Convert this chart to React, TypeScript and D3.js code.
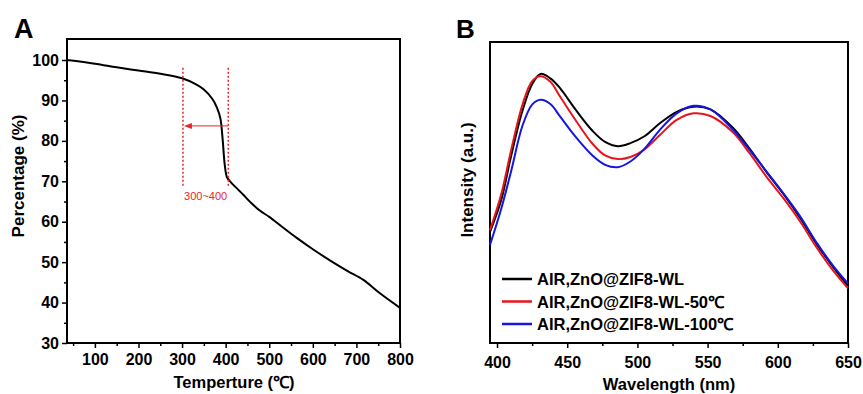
import React, { useEffect, useRef } from "react";
import * as d3 from "d3";

// panel A: TGA curve
const tempC = [36, 100, 150, 200, 250, 300, 330, 350, 370, 380, 388, 393, 398, 403, 410, 430, 441, 460, 479, 500, 530, 563, 600, 640, 680, 716, 754, 800];
const massPct = [100, 99.1, 98.2, 97.4, 96.6, 95.5, 94.1, 92.7, 90.3, 88.2, 85.5, 80.5, 74.0, 71.0, 70.0, 67.8, 66.6, 64.5, 62.7, 61.2, 58.7, 56.0, 53.2, 50.4, 47.8, 45.6, 42.3, 38.7];
const tempTicks = [100, 200, 300, 400, 500, 600, 700, 800];
const pctTicks = [30, 40, 50, 60, 70, 80, 90, 100];
const markerTemps = [302, 406];
const markerSpan = [68.6, 98.1];
const arrowLevel = 83.7;
const markerLabel = "300~400";

// panel B: PL spectra
const wavelength = [395, 403, 410, 418, 425, 431, 438, 445, 456, 468, 477, 486, 495, 505, 516, 528, 540, 552, 568, 580, 592, 604, 616, 628, 640, 650];
const specWL = [36.9, 47.5, 62.0, 77.0, 86.0, 89.4, 87.9, 84.6, 77.5, 70.5, 66.8, 65.4, 66.4, 68.7, 73.0, 76.8, 78.5, 77.6, 71.5, 64.5, 56.8, 49.5, 41.5, 32.6, 24.9, 18.9];
const specWL50 = [37.5, 49.4, 64.0, 79.0, 87.0, 88.6, 86.8, 81.8, 74.0, 66.2, 62.3, 61.1, 61.8, 64.3, 69.1, 74.1, 76.3, 75.4, 70.0, 63.0, 55.2, 48.1, 40.3, 31.5, 23.7, 18.2];
const specWL100 = [32.6, 44.6, 57.0, 72.0, 79.2, 80.8, 79.4, 75.2, 68.5, 62.3, 59.2, 58.4, 60.3, 64.5, 70.8, 76.3, 78.8, 77.6, 70.9, 64.1, 56.9, 49.7, 42.0, 33.1, 25.3, 19.8];
const seriesNames = ["AIR,ZnO@ZIF8-WL", "AIR,ZnO@ZIF8-WL-50℃", "AIR,ZnO@ZIF8-WL-100℃"];
const seriesColors = ["#000000", "#e8141c", "#1616e0"];
const waveTicks = [400, 450, 500, 550, 600, 650];

const font = "'Liberation Sans', Arial, sans-serif";

export default function App() {
  const svgRef = useRef<SVGSVGElement | null>(null);

  useEffect(() => {
    if (!svgRef.current) return;
    const svg = d3.select(svgRef.current);
    svg.selectAll("*").remove();

    const styleAxis = (ax: d3.Selection<SVGGElement, unknown, null, undefined>) => {
      ax.select(".domain").remove();
      ax.selectAll("line").attr("stroke", "#000").attr("stroke-width", 1.5);
      ax.selectAll("text")
        .attr("fill", "#000")
        .style("font-family", font)
        .style("font-size", "16px")
        .style("font-weight", "bold");
    };

    // ---------- A ----------
    const xA = d3.scaleLinear().domain([36, 800]).range([67, 400]);
    const yA = d3.scaleLinear().domain([30, 105.2]).range([343, 39]);

    const axAx = svg.append("g").attr("transform", `translate(0,343)`)
      .call(d3.axisBottom(xA).tickValues(tempTicks).tickSize(5).tickPadding(6).tickSizeOuter(0));
    styleAxis(axAx);
    const axAxm = svg.append("g").attr("transform", `translate(0,343)`)
      .call(d3.axisBottom(xA).tickValues(d3.range(50, 800, 100)).tickSize(3).tickFormat(() => "").tickSizeOuter(0));
    styleAxis(axAxm);

    const axAy = svg.append("g").attr("transform", `translate(67,0)`)
      .call(d3.axisLeft(yA).tickValues(pctTicks).tickSize(5).tickPadding(3).tickSizeOuter(0));
    styleAxis(axAy);
    const axAym = svg.append("g").attr("transform", `translate(67,0)`)
      .call(d3.axisLeft(yA).tickValues(d3.range(35, 100, 10)).tickSize(3).tickFormat(() => "").tickSizeOuter(0));
    styleAxis(axAym);

    svg.append("rect")
      .attr("x", 67).attr("y", 39).attr("width", 333).attr("height", 304)
      .attr("fill", "none").attr("stroke", "#000").attr("stroke-width", 2);

    const lineA = d3.line<number>()
      .x((_, i) => xA(tempC[i]))
      .y((d) => yA(d))
      .curve(d3.curveCatmullRom.alpha(0.5));
    svg.append("path").datum(massPct).attr("d", lineA)
      .attr("fill", "none").attr("stroke", "#000").attr("stroke-width", 2);

    // red marker
    const red = "#e8262b";
    markerTemps.forEach((t) => {
      svg.append("line")
        .attr("x1", xA(t)).attr("x2", xA(t))
        .attr("y1", yA(markerSpan[1])).attr("y2", yA(markerSpan[0]))
        .attr("stroke", red).attr("stroke-width", 1.5).attr("stroke-dasharray", "2,2");
    });
    const ax0 = xA(markerTemps[0]) + 1;
    const ax1 = xA(markerTemps[1]);
    const ay = yA(arrowLevel);
    svg.append("line").attr("x1", ax0 + 6).attr("x2", ax1).attr("y1", ay).attr("y2", ay)
      .attr("stroke", red).attr("stroke-width", 1);
    svg.append("path")
      .attr("d", `M${ax0},${ay} L${ax0 + 8},${ay - 3} L${ax0 + 8},${ay + 3} Z`)
      .attr("fill", red);
    svg.append("text")
      .attr("x", (xA(markerTemps[0]) + xA(markerTemps[1])) / 2)
      .attr("y", 200)
      .attr("text-anchor", "middle")
      .attr("fill", red)
      .style("font-family", font)
      .style("font-size", "11px")
      .text(markerLabel);

    svg.append("text").attr("x", 14).attr("y", 38)
      .style("font-family", font).style("font-size", "27px").style("font-weight", "bold")
      .text("A");
    svg.append("text")
      .attr("transform", "translate(18,176) rotate(-90)")
      .attr("text-anchor", "middle").attr("dy", "0.35em")
      .style("font-family", font).style("font-size", "17px").style("font-weight", "bold")
      .text("Percentage (%)");
    svg.append("text").attr("x", 234).attr("y", 388).attr("text-anchor", "middle")
      .style("font-family", font).style("font-size", "16.5px").style("font-weight", "bold")
      .text("Temperture (℃)");

    // ---------- B ----------
    const xB = d3.scaleLinear().domain([395, 650]).range([490, 848]);
    const yB = d3.scaleLinear().domain([0, 100]).range([343, 42]);

    const axBx = svg.append("g").attr("transform", `translate(0,343)`)
      .call(d3.axisBottom(xB).tickValues(waveTicks).tickSize(5).tickPadding(9).tickSizeOuter(0));
    styleAxis(axBx);
    const axBxm = svg.append("g").attr("transform", `translate(0,343)`)
      .call(d3.axisBottom(xB).tickValues(d3.range(425, 650, 50)).tickSize(3).tickFormat(() => "").tickSizeOuter(0));
    styleAxis(axBxm);

    svg.append("rect")
      .attr("x", 490).attr("y", 42).attr("width", 358).attr("height", 301)
      .attr("fill", "none").attr("stroke", "#000").attr("stroke-width", 2);

    const lineB = d3.line<number>()
      .x((_, i) => xB(wavelength[i]))
      .y((d) => yB(d))
      .curve(d3.curveCatmullRom.alpha(0.5));
    [specWL, specWL50, specWL100].forEach((s, i) => {
      svg.append("path").datum(s).attr("d", lineB)
        .attr("fill", "none").attr("stroke", seriesColors[i]).attr("stroke-width", 2);
    });

    const legend = svg.append("g");
    seriesNames.forEach((name, i) => {
      const y = 279 + i * 22.5;
      legend.append("line").attr("x1", 502).attr("x2", 532).attr("y1", y).attr("y2", y)
        .attr("stroke", seriesColors[i]).attr("stroke-width", 2.5);
      legend.append("text").attr("x", 537).attr("y", y + 6)
        .style("font-family", font).style("font-size", "16.5px").style("font-weight", "bold")
        .text(name);
    });

    svg.append("text").attr("x", 456).attr("y", 38)
      .style("font-family", font).style("font-size", "26px").style("font-weight", "bold")
      .text("B");
    svg.append("text")
      .attr("transform", "translate(467,180) rotate(-90)")
      .attr("text-anchor", "middle").attr("dy", "0.35em")
      .style("font-family", font).style("font-size", "17px").style("font-weight", "bold")
      .text("Intensity (a.u.)");
    svg.append("text").attr("x", 669).attr("y", 390).attr("text-anchor", "middle")
      .style("font-family", font).style("font-size", "16.5px").style("font-weight", "bold")
      .text("Wavelength (nm)");
  }, []);

  return (
    <svg
      ref={svgRef}
      width={863}
      height={394}
      style={{ position: "absolute", left: 0, top: 0, background: "#fff" }}
    />
  );
}
